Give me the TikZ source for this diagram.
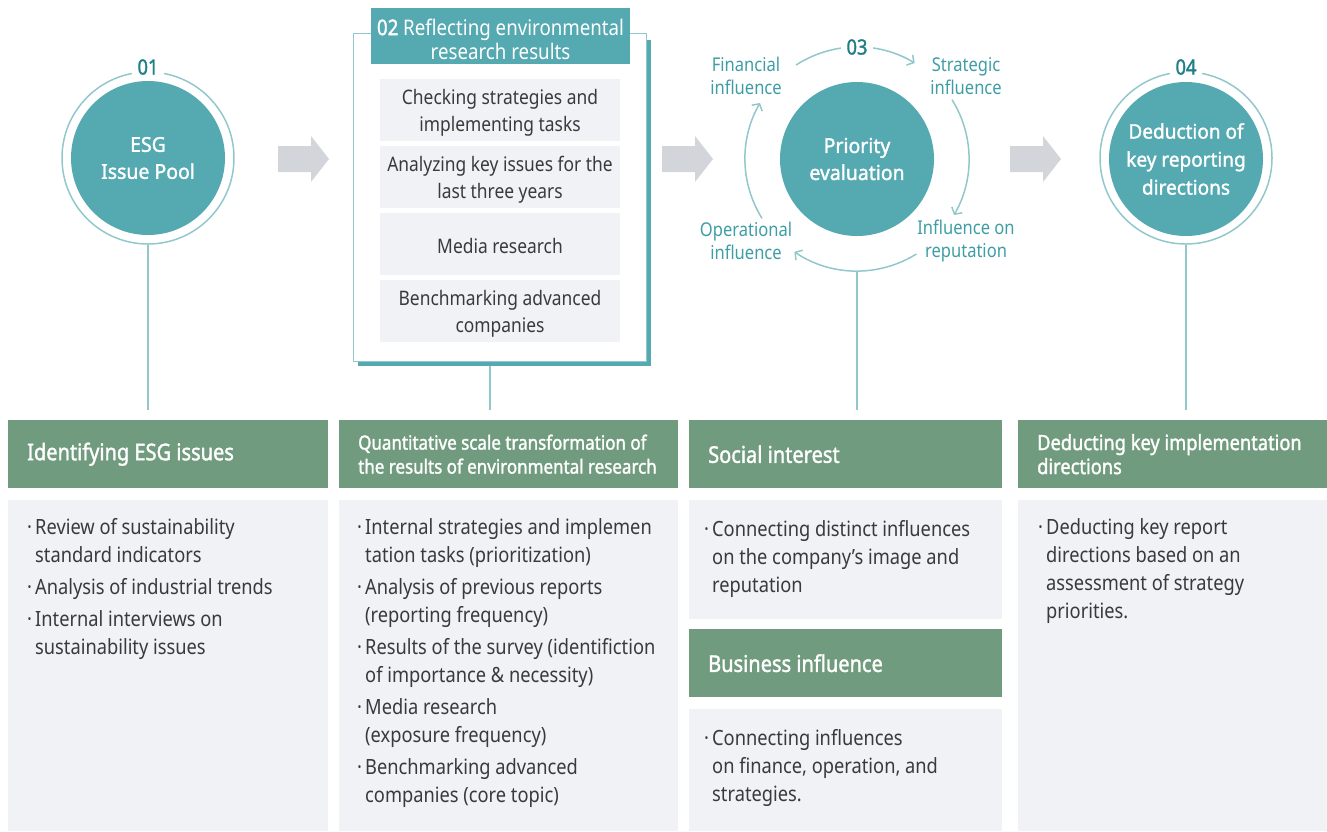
\documentclass[tikz,border=0pt]{standalone}
\usepackage{fontspec}
\setmainfont{Noto Sans}[FakeStretch=0.87,AutoFakeBold=1.5]
\newfontfamily\cfont{Noto Sans}[FakeStretch=0.95,AutoFakeBold=1.5]
\usetikzlibrary{arrows.meta,calc}
\definecolor{tealfill}{HTML}{55A9B1}
\definecolor{ringc}{HTML}{92C7CB}
\definecolor{numc}{HTML}{1E7F86}
\definecolor{labc}{HTML}{3E9DA5}
\definecolor{arrowgray}{HTML}{D2D5DA}
\definecolor{hdrgreen}{HTML}{719B7E}
\definecolor{bodygray}{HTML}{F1F2F6}
\definecolor{txt}{HTML}{3A3A3A}
\newcommand\bul{\makebox[8pt][l]{·}}
\newcommand\ind{\hspace*{8pt}}
\newcommand\grayarrow[1]{\fill[arrowgray] (#1,146) -- ++(33,0) -- ++(0,-10) -- ++(18,23) -- ++(-18,23) -- ++(0,-10) -- ++(-33,0) -- cycle;}
\begin{document}
\begin{tikzpicture}[x=1pt,y=-1pt,
  ring/.style={circle,draw=ringc,line width=1.5pt,minimum size=172pt,inner sep=0},
  disc/.style={circle,fill=tealfill,minimum size=154pt,inner sep=0,text=white,align=center,font=\cfont\bfseries\fontsize{20.5}{27}\selectfont},
  num/.style={fill=white,inner xsep=6pt,inner ysep=1pt,text=numc,font=\bfseries\fontsize{21}{22}\selectfont},
  conn/.style={draw=ringc,line width=1.5pt},
  cyc/.style={draw=ringc,line width=1.5pt,-{Straight Barb[length=5pt,width=12pt]}},
  cyclab/.style={text=labc,align=center,font=\fontsize{19}{23}\selectfont},
  hbg/.style={fill=hdrgreen,anchor=north west,inner sep=0,minimum height=68pt},
  htxt/.style={anchor=west,inner sep=0,text=white,align=left,font=\bfseries\fontsize{23}{24}\selectfont},
  htxts/.style={htxt,font=\bfseries\fontsize{19.5}{24}\selectfont},
  htxtm/.style={htxt,font=\bfseries\fontsize{21}{24}\selectfont},
  bg/.style={fill=bodygray,anchor=north west,inner sep=0},
  body/.style={anchor=north west,align=left,inner sep=0,text=txt,font=\fontsize{21}{28}\selectfont},
  itembg/.style={fill=bodygray,minimum width=240pt,minimum height=62pt,inner sep=0},
  itemtxt/.style={inner sep=0,align=center,text=txt,font=\fontsize{20}{27}\selectfont},
]
\useasboundingbox (0,0) rectangle (1327,831);

% ---------- bottom columns ----------
\node[hbg,minimum width=320pt] (h1) at (8,420) {};
\node[htxt] (t1) at ($(h1.west)+(19,0)$) {Identifying ESG issues};
\node[bg,minimum width=320pt,minimum height=331pt] (g1) at (8,500) {};
\node[body] (b1) at (27,518) {\bul Review of sustainability\\ \ind standard indicators\\[4pt] \bul Analysis of industrial trends\\[4pt] \bul Internal interviews on\\ \ind sustainability issues};

\node[hbg,minimum width=339pt] (h2) at (339,420) {};
\node[htxts] (t2) at ($(h2.west)+(19,0)$) {Quantitative scale transformation of\\the results of environmental research};
\node[bg,minimum width=339pt,minimum height=331pt] (g2) at (339,500) {};
\node[body] (b2) at (357,518) {\bul Internal strategies and implemen\\ \ind tation tasks (prioritization)\\[4pt] \bul Analysis of previous reports\\ \ind (reporting frequency)\\[4pt] \bul Results of the survey (identifiction\\ \ind of importance \& necessity)\\[4pt] \bul Media research\\ \ind (exposure frequency)\\[4pt] \bul Benchmarking advanced\\ \ind companies (core topic)};

\node[hbg,minimum width=313pt] (h3) at (689,420) {};
\node[htxt] (t3) at ($(h3.west)+(19,0)$) {Social interest};
\node[bg,minimum width=313pt,minimum height=119pt] (g3) at (689,500) {};
\node[body] (b3) at (704,520) {\bul Connecting distinct influences\\ \ind on the company’s image and\\ \ind reputation};
\node[hbg,minimum width=313pt] (h3b) at (689,629) {};
\node[htxt] (t3b) at ($(h3b.west)+(19,0)$) {Business influence};
\node[bg,minimum width=313pt,minimum height=122pt] (g3b) at (689,709) {};
\node[body] (b3b) at (704,729) {\bul Connecting influences\\ \ind on finance, operation, and\\ \ind strategies.};

\node[hbg,minimum width=309pt] (h4) at (1018,420) {};
\node[htxtm] (t4) at ($(h4.west)+(19,0)$) {Deducting key implementation\\directions};
\node[bg,minimum width=309pt,minimum height=331pt] (g4) at (1018,500) {};
\node[body] (b4) at (1038,518) {\bul Deducting key report\\ \ind directions based on an\\ \ind assessment of strategy\\ \ind priorities.};

% ---------- gray arrows ----------
\grayarrow{278}
\grayarrow{662}
\grayarrow{1010}

% ---------- 01 ----------
\node[ring] (ring1) at (148,158) {};
\node[disc] (c1) at (148,158) {ESG\\Issue Pool};
\node[num] (n1) at (148,67) {01};
\draw[conn] (ring1.south) -- ([yshift=10pt]ring1.south |- h1.north);

% ---------- 02 ----------
\fill[tealfill] (358,40) rectangle (651,366);
\node[draw=ringc,line width=1.2pt,fill=white,anchor=north west,minimum width=293pt,minimum height=328pt,inner sep=0] (frame) at (353,33) {};
\node[fill=tealfill,minimum width=259pt,minimum height=56pt,inner sep=0] (hd2) at (500.5,36) {};
\node[inner sep=0,text=white,align=center,font=\fontsize{21.5}{24}\selectfont] (hd2t) at ($(hd2.center)+(0,3)$) {\textbf{02} Reflecting environmental\\research results};
\node[itembg] (i1) at (500,110) {};
\node[itembg] (i2) at (500,177) {};
\node[itembg] (i3) at (500,244) {};
\node[itembg] (i4) at (500,311) {};
\node[itemtxt] at ($(i1.center)+(0,3)$) {Checking strategies and\\implementing tasks};
\node[itemtxt] at ($(i2.center)+(0,3)$) {Analyzing key issues for the\\last three years};
\node[itemtxt] at ($(i3.center)+(0,2)$) {Media research};
\node[itemtxt] at ($(i4.center)+(0,3)$) {Benchmarking advanced\\companies};
\coordinate (l2) at (490,366);
\draw[conn] (l2) -- ([yshift=10pt]l2 |- h2.north);

% ---------- 03 ----------
\coordinate (pc) at (857,159);
\node[disc] (c3) at (pc) {Priority\\evaluation};
\draw[cyc] ($(pc)+(123:112pt)$) arc[start angle=123,end angle=59,radius=112pt];
\draw[cyc] ($(pc)+(32:112pt)$) arc[start angle=32,end angle=-30,radius=112pt];
\draw[cyc] ($(pc)+(-58:112pt)$) arc[start angle=-58,end angle=-124,radius=112pt];
\draw[cyc] ($(pc)+(-148:112pt)$) arc[start angle=-148,end angle=-210,radius=112pt];
\node[num] (n3) at (857,47) {03};
\node[cyclab] (fin) at (746,76) {Financial\\influence};
\node[cyclab] (str) at (966,76) {Strategic\\influence};
\node[cyclab] (ope) at (746,241) {Operational\\influence};
\node[cyclab] (rep) at (966,241) {Influence on\\reputation};
\coordinate (l3) at ($(pc)+(0,113)$);
\draw[conn] (l3) -- ([yshift=10pt]l3 |- h3.north);

% ---------- 04 ----------
\node[ring] (ring4) at (1186,158) {};
\node[disc,font=\cfont\bfseries\fontsize{20}{28}\selectfont] (c4) at (1186,159) {Deduction of\\key reporting\\directions};
\node[num] (n4) at (1186,67) {04};
\draw[conn] (ring4.south) -- ([yshift=10pt]ring4.south |- h4.north);
\end{tikzpicture}
\end{document}
